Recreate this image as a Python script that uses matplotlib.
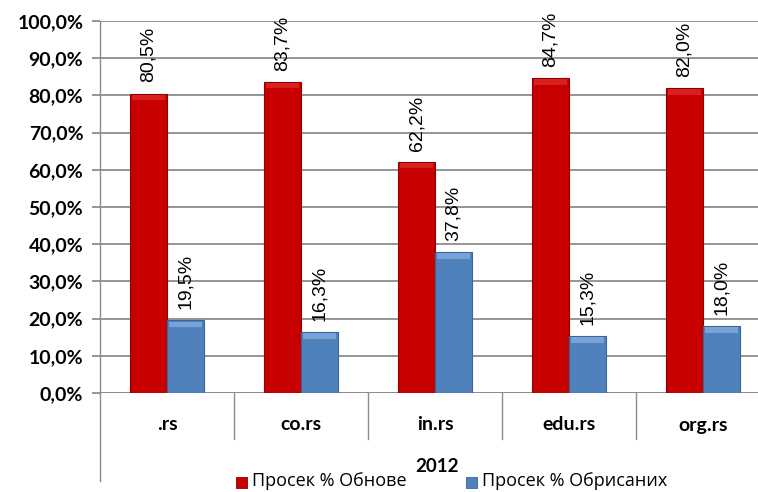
import matplotlib
matplotlib.use('Agg')
import matplotlib.pyplot as plt
import matplotlib.transforms as mtransforms
from matplotlib.patches import Rectangle
import numpy as np

# data
categories = ['.rs', 'co.rs', 'in.rs', 'edu.rs', 'org.rs']
obnove = [80.5, 83.7, 62.2, 84.7, 82.0]
obrisanih = [19.5, 16.3, 37.8, 15.3, 18.0]
series_names = ['Просек % Обнове', 'Просек % Обрисаних']
group_label = '2012'
yticks = [0, 10, 20, 30, 40, 50, 60, 70, 80, 90, 100]

red = '#C80000'
red_edge = '#8B0000'
blue = '#4F81BD'
blue_edge = '#3A6597'
grid_col = '#8C8C8C'

fig = plt.figure(figsize=(7.58, 4.92), dpi=100)
fig.patch.set_facecolor('white')
ax = fig.add_axes([100 / 758, 99 / 492, 670 / 758, 372 / 492])

x = np.arange(len(categories))
w = 0.275

bars1 = ax.bar(x - w / 2, obnove, w, color=red, edgecolor=red_edge, linewidth=0.8, zorder=3)
bars2 = ax.bar(x + w / 2, obrisanih, w, color=blue, edgecolor=blue_edge, linewidth=0.8, zorder=3)

# a lighter strip at the top of each bar to hint at the bevel
for bars, light in ((bars1, '#D82020'), (bars2, '#79A2D6')):
    for b in bars:
        ax.add_patch(Rectangle((b.get_x() + 0.015, b.get_height() - 1.8), b.get_width() - 0.03, 1.5,
                               facecolor=light, edgecolor='none', zorder=4))

# value labels, rotated
for bars, vals in ((bars1, obnove), (bars2, obrisanih)):
    for b, v in zip(bars, vals):
        ax.annotate(f'{v:.1f}%'.replace('.', ','), (b.get_x() + b.get_width() / 2, v),
                    xytext=(0, 8), textcoords='offset points', rotation=90,
                    ha='center', va='bottom', fontsize=14, family='Liberation Sans', zorder=5)

ax.set_xlim(-0.5, len(categories) - 0.5)
ax.set_ylim(0, 100)
ax.set_yticks(yticks)
ax.set_yticklabels([f'{t:.1f}%'.replace('.', ',') for t in yticks],
                   fontsize=14, fontweight='bold', family='Lato')
ax.yaxis.grid(True, color=grid_col, linewidth=1.3, zorder=0)
ax.tick_params(axis='y', length=6, width=1.3, color=grid_col, pad=6)
ax.set_xticks([])

for s in ['top', 'right', 'bottom']:
    ax.spines[s].set_visible(False)
ax.spines['left'].set_color(grid_col)
ax.spines['left'].set_linewidth(1.0)

# category axis below the zero line
trans = mtransforms.blended_transform_factory(ax.transData, ax.transAxes)
ax.axhline(0, color=grid_col, linewidth=1.3, zorder=2)
for b in np.arange(0.5, len(categories) - 0.5, 1):
    ax.plot([b, b], [0, -46 / 372], transform=trans, color=grid_col, linewidth=1.0, clip_on=False)
ax.plot([-0.5, -0.5], [0, -88 / 372], transform=trans, color=grid_col, linewidth=1.0, clip_on=False)

for i, c in enumerate(categories):
    ax.text(i, -32 / 372, c, transform=trans, ha='center', va='center',
            fontsize=14, fontweight='bold', family='Lato')

fig.text(437 / 758, 1 - 466 / 492, group_label, ha='center', va='center',
         fontsize=13.5, fontweight='bold', family='Lato')

# legend at the very bottom
fig.patches.append(Rectangle((236 / 758, 1 - 488 / 492), 11 / 758, 11 / 492, transform=fig.transFigure,
                             facecolor=red, edgecolor=red_edge, linewidth=0.6))
fig.text(252 / 758, 1 - 481 / 492, series_names[0], ha='left', va='center', fontsize=13, family='Open Sans')
fig.patches.append(Rectangle((466 / 758, 1 - 488 / 492), 11 / 758, 11 / 492, transform=fig.transFigure,
                             facecolor=blue, edgecolor=blue_edge, linewidth=0.6))
fig.text(482 / 758, 1 - 481 / 492, series_names[1], ha='left', va='center', fontsize=13, family='Open Sans')

fig.savefig('out.png', dpi=100, facecolor='white')
